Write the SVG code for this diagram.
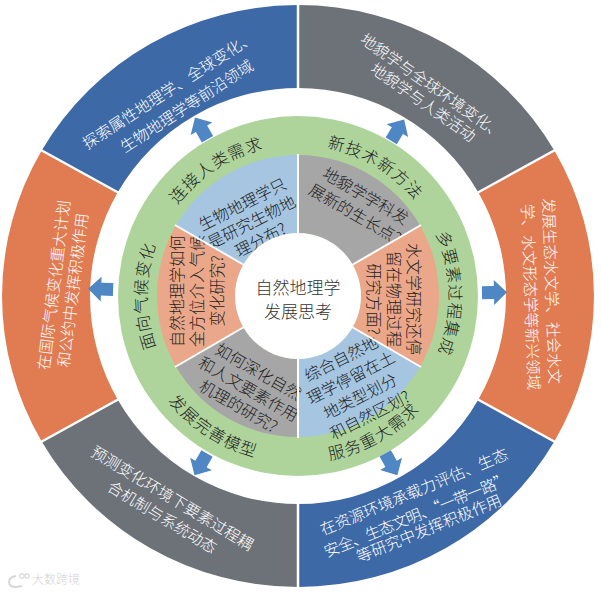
<svg xmlns="http://www.w3.org/2000/svg" width="601" height="594" viewBox="0 0 601 594">
<style>
text{font-family:"Noto Sans CJK SC","Noto Sans",sans-serif;font-weight:300;}
.ot{font-size:15.5px;fill:#ffffff;text-anchor:middle;dominant-baseline:central;}
.pt{font-size:16px;fill:#1e1e1e;text-anchor:middle;dominant-baseline:central;}
.gt{font-size:16.5px;fill:#1e1e1e;text-anchor:middle;letter-spacing:1px;}
.ct{font-size:17px;fill:#333333;text-anchor:middle;dominant-baseline:central;}
.blue{fill:#3d69a6;}
.gray{fill:#6d7279;}
.orange{fill:#e07b52;}
.lblue{fill:#a5c5e1;}
.lgray{fill:#a6a6a7;}
.salmon{fill:#eba78a;}
.sep{stroke:#ffffff;stroke-width:2.5;}
.psep{stroke:#ffffff;stroke-width:2;}
.arrow{fill:#4f86c4;}
</style>
<defs>
<path id="arr" d="M-12,-6.5 H0 V-12.5 L13,0 L0,12.5 V6.5 H-12 Z"/>
<path id="p1" d="M153.6,251.8 A151,151 0 0 1 316.4,146.1"/>
<path id="p2" d="M274.4,146.9 A151,151 0 0 1 440.8,246.8"/>
<path id="p3" d="M412.0,196.9 A151,151 0 0 1 415.3,391.0"/>
<path id="p4" d="M266.1,459.9 A167,167 0 0 0 453.9,355.9"/>
<path id="p5" d="M138.3,344.8 A167,167 0 0 0 318.4,461.7"/>
<path id="p6" d="M182.3,393.1 A151,151 0 0 1 182.3,198.9"/>
</defs>
<rect width="601" height="594" fill="#ffffff"/>

<!-- outer ring -->
<g id="outer-tl">
<path class="blue" d="M41.7,150.5 A296,291 0 0 1 298,5 L298,88 A208,208 0 0 0 117.9,192 Z"/>
<text class="ot" transform="translate(168,89) rotate(-33)">探索属性地理学、全球变化、</text>
<text class="ot" transform="translate(186,105) rotate(-33)">生物地理学等前沿领域</text>
</g>
<g id="outer-tr">
<path class="gray" d="M298,5 A296,291 0 0 1 554.3,150.5 L478.1,192 A208,208 0 0 0 298,88 Z"/>
<text class="ot" transform="translate(433,85) rotate(35)">地貌学与全球环境变化、</text>
<text class="ot" transform="translate(424,101) rotate(35)">地貌学与人类活动</text>
</g>
<g id="outer-r">
<path class="orange" d="M554.3,150.5 A296,291 0 0 1 554.3,441.5 L478.1,400 A208,208 0 0 0 478.1,192 Z"/>
<text class="ot" transform="translate(553,291) rotate(88)">发展生态水文学、社会水文</text>
<text class="ot" transform="translate(532,297) rotate(88)">学、水文形态学等新兴领域</text>
</g>
<g id="outer-br">
<path class="blue" d="M554.3,441.5 A296,291 0 0 1 298,587 L298,504 A208,208 0 0 0 478.1,400 Z"/>
<text class="ot" transform="translate(413.5,490.5) rotate(-22.5)">在资源环境承载力评估、生态</text>
<text class="ot" transform="translate(416,514) rotate(-22)" style="letter-spacing:-0.8px">安全、生态文明、“一带一路”</text>
<text class="ot" transform="translate(428.5,527) rotate(-22)">等研究中发挥积极作用</text>
</g>
<g id="outer-bl">
<path class="gray" d="M298,587 A296,291 0 0 1 41.7,441.5 L117.9,400 A208,208 0 0 0 298,504 Z"/>
<text class="ot" transform="translate(173,497) rotate(31)">预测变化环境下要素过程耦</text>
<text class="ot" transform="translate(163,516) rotate(31)">合机制与系统动态</text>
</g>
<g id="outer-l">
<path class="orange" d="M41.7,441.5 A296,291 0 0 1 41.7,150.5 L117.9,192 A208,208 0 0 0 117.9,400 Z"/>
<text class="ot" transform="translate(52.5,285) rotate(-83)">在国际气候变化重大计划</text>
<text class="ot" transform="translate(71.5,290) rotate(-83)">和公约中发挥积极作用</text>
</g>
<g id="outer-separators">
<line class="sep" x1="298" y1="3" x2="298" y2="89"/>
<line class="sep" x1="556" y1="149.5" x2="477" y2="193"/>
<line class="sep" x1="556" y1="442.5" x2="477" y2="399"/>
<line class="sep" x1="298" y1="503" x2="298" y2="590"/>
<line class="sep" x1="40" y1="442.5" x2="119" y2="399"/>
<line class="sep" x1="40" y1="149.5" x2="119" y2="193"/>
</g>

<!-- green ring -->
<g id="green-ring">
<circle cx="298" cy="296" r="180" fill="#afd49b"/>
</g>

<!-- inner pie -->
<g id="pie-tl">
<path class="lblue" d="M175.9,225.5 A141,141 0 0 1 298,155 L298,233 A63,63 0 0 0 243.4,264.5 Z"/>
<g transform="translate(251,221) rotate(-27)">
<text class="pt" y="-20">生物地理学只</text>
<text class="pt" y="0">是研究生物地</text>
<text class="pt" y="20">理分布?</text>
</g>
</g>
<g id="pie-tr">
<path class="lgray" d="M298,155 A141,141 0 0 1 420.1,225.5 L352.6,264.5 A63,63 0 0 0 298,233 Z"/>
<g transform="translate(361,204) rotate(30)">
<text class="pt" y="-10.5">地貌学学科发</text>
<text class="pt" y="10.5">展新的生长点?</text>
</g>
</g>
<g id="pie-r">
<path class="salmon" d="M420.1,225.5 A141,141 0 0 1 420.1,366.5 L352.6,327.5 A63,63 0 0 0 352.6,264.5 Z"/>
<g transform="translate(395,299) rotate(90)">
<text class="pt" y="-20">水文学研究还停</text>
<text class="pt" y="0">留在物理过程</text>
<text class="pt" y="20">研究方面?</text>
</g>
</g>
<g id="pie-br">
<path class="lblue" d="M420.1,366.5 A141,141 0 0 1 298,437 L298,359 A63,63 0 0 0 352.6,327.5 Z"/>
<g transform="translate(355,386) rotate(-27)">
<text class="pt" y="-31.5">综合自然地</text>
<text class="pt" y="-10.5">理学停留在土</text>
<text class="pt" y="10.5">地类型划分</text>
<text class="pt" y="31.5">和自然区划?</text>
</g>
</g>
<g id="pie-bl">
<path class="lgray" d="M298,437 A141,141 0 0 1 175.9,366.5 L243.4,327.5 A63,63 0 0 0 298,359 Z"/>
<g transform="translate(249,388) rotate(30)">
<text class="pt" y="-20">如何深化自然</text>
<text class="pt" y="0">和人文要素作用</text>
<text class="pt" y="20">机理的研究?</text>
</g>
</g>
<g id="pie-l">
<path class="salmon" d="M175.9,366.5 A141,141 0 0 1 175.9,225.5 L243.4,264.5 A63,63 0 0 0 243.4,327.5 Z"/>
<g transform="translate(196,291) rotate(-90)">
<text class="pt" y="-20">自然地理学如何</text>
<text class="pt" y="0">全方位介入气候</text>
<text class="pt" y="20">变化研究?</text>
</g>
</g>
<g id="pie-separators">
<line class="psep" x1="298" y1="154" x2="298" y2="234"/>
<line class="psep" x1="421" y1="225" x2="352" y2="265"/>
<line class="psep" x1="421" y1="367" x2="352" y2="327"/>
<line class="psep" x1="298" y1="358" x2="298" y2="438"/>
<line class="psep" x1="175" y1="367" x2="244" y2="327"/>
<line class="psep" x1="175" y1="225" x2="244" y2="265"/>
</g>

<g id="center">
<circle cx="298" cy="296" r="63" fill="#ffffff"/>
<text class="ct" x="298" y="286">自然地理学</text>
<text class="ct" x="298" y="310">发展思考</text>
</g>

<!-- green ring labels -->
<g id="label-human"><text class="gt"><textPath href="#p1" startOffset="50%">连接人类需求</textPath></text></g>
<g id="label-tech"><text class="gt"><textPath href="#p2" startOffset="50%">新技术新方法</textPath></text></g>
<g id="label-process"><text class="gt"><textPath href="#p3" startOffset="50%">多要素过程集成</textPath></text></g>
<g id="label-serve"><text class="gt"><textPath href="#p4" startOffset="50%">服务重大需求</textPath></text></g>
<g id="label-model"><text class="gt"><textPath href="#p5" startOffset="50%">发展完善模型</textPath></text></g>
<g id="label-climate"><text class="gt"><textPath href="#p6" startOffset="50%">面向气候变化</textPath></text></g>

<!-- connectors -->
<g id="connectors">
<use href="#arr" class="arrow" transform="translate(298,296) rotate(-120) translate(193,0)"/>
<use href="#arr" class="arrow" transform="translate(298,296) rotate(-59) translate(193,0)"/>
<use href="#arr" class="arrow" transform="translate(298,296) rotate(-1) translate(196,0)"/>
<use href="#arr" class="arrow" transform="translate(298,296) rotate(61) translate(192,0)"/>
<use href="#arr" class="arrow" transform="translate(298,296) rotate(120) translate(194,0)"/>
<use href="#arr" class="arrow" transform="translate(298,296) rotate(182) translate(197,0)"/>
</g>

<g id="watermark" opacity="0.9">
<path d="M16,576 Q9,577 9,582 Q9,587 16,587 L22,586" fill="none" stroke="#d4d4d4" stroke-width="2"/>
<circle cx="22" cy="576" r="2.2" fill="none" stroke="#d4d4d4" stroke-width="1.2"/>
<circle cx="27" cy="576" r="2.2" fill="none" stroke="#d4d4d4" stroke-width="1.2"/>
<text x="32" y="584" font-size="12" fill="#d0d0d0">大数跨境</text>
</g>
</svg>
